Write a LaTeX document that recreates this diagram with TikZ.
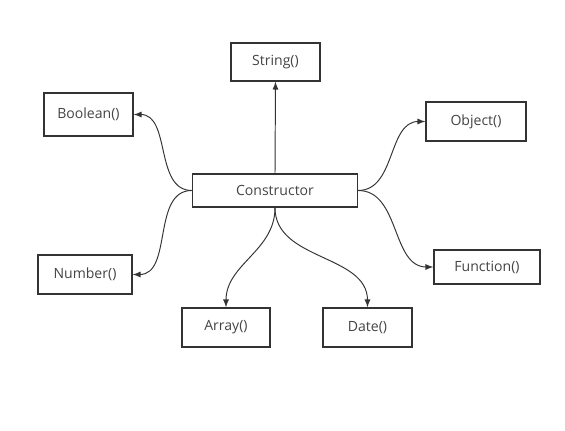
\documentclass[tikz,border=0pt]{standalone}
\usepackage{fontspec}
\setmainfont{Open Sans}
\usepackage{tikz}
\usetikzlibrary{arrows}

\definecolor{linegray}{HTML}{333333}
\definecolor{textgray}{HTML}{444444}

\tikzset{
  classbox/.style={draw=linegray, line width=0.8pt, text=textgray,
    font=\fontsize{8}{10}\selectfont, minimum height=0.78cm, inner sep=0pt},
  link/.style={draw=linegray, line width=0.55pt, -latex}
}

\begin{document}
\begin{tikzpicture}[x=0.02cm, y=-0.02cm]
\useasboundingbox (0,0) rectangle (565,431);

\node[classbox, minimum width=3.3cm, minimum height=0.66cm] (ctor) at (275,190.5) {Constructor};
\node[classbox, minimum width=1.78cm, minimum height=0.76cm] (string) at (275.5,62) {String()};
\node[classbox, minimum width=1.78cm, minimum height=0.86cm] (boolean) at (88.5,114.5) {Boolean()};
\node[classbox, minimum width=2.0cm] (object) at (476,121.5) {Object()};
\node[classbox, minimum width=1.88cm] (number) at (85,274.5) {Number()};
\node[classbox, minimum width=2.12cm, minimum height=0.68cm] (function) at (487,267) {Function()};
\node[classbox, minimum width=1.76cm] (array) at (226,327.5) {Array()};
\node[classbox, minimum width=1.78cm] (date) at (367.5,327.5) {Date()};

\draw[link] (ctor.north) -- (string.south);
\draw[link] (ctor.west) to[out=180, in=0] (boolean.east);
\draw[link] (ctor.west) to[out=180, in=0] (number.east);
\draw[link] (ctor.east) to[out=0, in=180] (object.west);
\draw[link] (ctor.east) to[out=0, in=180] (function.west);
\draw[link] (ctor.south) to[out=-90, in=90] (array.north);
\draw[link] (ctor.south) to[out=-90, in=90] (date.north);
\end{tikzpicture}
\end{document}
